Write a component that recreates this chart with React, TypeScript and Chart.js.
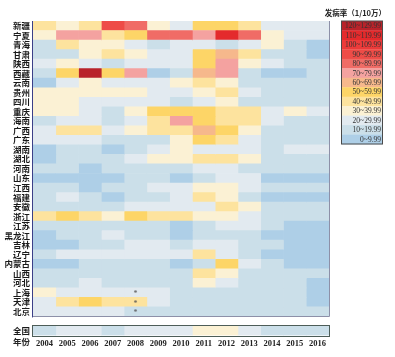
import React, { useEffect, useRef } from 'react';
import { Chart, registerables } from 'chart.js';

Chart.register(...registerables);

const years = [2004, 2005, 2006, 2007, 2008, 2009, 2010, 2011, 2012, 2013, 2014, 2015, 2016];

const provinces = [
  '新疆', '宁夏', '青海', '甘肃', '陕西', '西藏', '云南', '贵州', '四川', '重庆',
  '海南', '广西', '广东', '湖南', '湖北', '河南', '山东', '江西', '福建', '安徽',
  '浙江', '江苏', '黑龙江', '吉林', '辽宁', '内蒙古', '山西', '河北', '上海', '天津', '北京',
];

// incidence per 100 000, one row per province, columns 2004..2016 (estimated from colour bins)
const rateByProvince: number[][] = [
  [45, 35, 45, 95, 85, 35, 25, 55, 55, 45, 25, 25, 25], // 新疆
  [35, 75, 75, 45, 55, 85, 85, 75, 115, 85, 35, 25, 25], // 宁夏
  [15, 45, 35, 35, 25, 15, 25, 25, 15, 25, 35, 15, 6], // 青海
  [15, 15, 35, 45, 35, 25, 25, 55, 65, 45, 15, 15, 6], // 甘肃
  [25, 35, 25, 15, 25, 25, 25, 55, 75, 35, 25, 15, 15], // 陕西
  [15, 55, 125, 55, 75, 6, 15, 65, 75, 15, 6, 6, 15], // 西藏
  [6, 25, 35, 25, 25, 25, 35, 45, 35, 15, 15, 15, 15], // 云南
  [35, 35, 35, 35, 35, 25, 25, 35, 45, 25, 15, 15, 15], // 贵州
  [35, 35, 25, 25, 25, 25, 15, 25, 35, 15, 15, 15, 15], // 四川
  [35, 35, 25, 15, 35, 55, 55, 55, 45, 45, 25, 35, 25], // 重庆
  [15, 25, 25, 15, 25, 45, 75, 55, 45, 45, 25, 15, 15], // 海南
  [25, 45, 45, 25, 35, 45, 45, 65, 55, 35, 15, 15, 15], // 广西
  [25, 25, 25, 15, 15, 15, 35, 55, 45, 25, 15, 15, 15], // 广东
  [6, 15, 15, 6, 15, 25, 35, 25, 25, 25, 15, 25, 25], // 湖南
  [6, 15, 15, 15, 25, 35, 35, 45, 45, 35, 15, 15, 15], // 湖北
  [15, 15, 6, 15, 15, 15, 15, 25, 25, 15, 15, 15, 15], // 河南
  [6, 6, 6, 6, 15, 15, 6, 15, 25, 25, 6, 6, 6], // 山东
  [15, 15, 6, 15, 15, 25, 25, 35, 35, 25, 15, 15, 15], // 江西
  [15, 25, 15, 6, 15, 15, 25, 45, 35, 15, 6, 6, 6], // 福建
  [15, 15, 15, 15, 25, 25, 25, 25, 45, 35, 15, 15, 15], // 安徽
  [45, 55, 45, 35, 55, 45, 45, 35, 35, 25, 15, 15, 15], // 浙江
  [15, 15, 15, 15, 15, 15, 6, 15, 25, 25, 15, 6, 6], // 江苏
  [6, 15, 15, 25, 15, 15, 6, 15, 15, 15, 6, 6, 6], // 黑龙江
  [6, 6, 15, 15, 25, 25, 15, 25, 25, 15, 15, 6, 6], // 吉林
  [15, 25, 25, 25, 25, 25, 25, 45, 25, 15, 6, 6, 6], // 辽宁
  [6, 6, 15, 15, 15, 15, 6, 15, 55, 25, 15, 6, 6], // 内蒙古
  [15, 15, 15, 15, 15, 15, 15, 45, 35, 15, 15, 15, 15], // 山西
  [15, 15, 25, 15, 15, 15, 15, 35, 25, 15, 15, 15, 6], // 河北
  [35, 25, 25, 25, 25, 25, 15, 15, 15, 15, 15, 15, 6], // 上海
  [25, 45, 55, 45, 45, 25, 15, 15, 15, 15, 15, 15, 6], // 天津
  [25, 25, 25, 25, 15, 15, 15, 15, 15, 15, 15, 15, 15], // 北京
];

const nationalLabel = '全国';
const nationalRate = [15, 25, 25, 15, 25, 25, 25, 35, 35, 25, 15, 15, 15];

const legendTitle = '发病率（1/10万）';
const legendLabels = [
  '120~129.99', '110~119.99', '100~109.99', '90~99.99', '80~89.99', '70~79.99', '60~69.99',
  '50~59.99', '40~49.99', '30~39.99', '20~29.99', '10~19.99', '0~9.99',
];
const legendColors = [
  '#b9232a', '#e42a2c', '#ec3b3a', '#ee4c47', '#f06c66', '#f4a2a0', '#f6b88c',
  '#fdd567', '#fde39e', '#fbf1d4', '#e2eaf0', '#cbdfe9', '#aecfe7',
];
const flaggedCells = [
  { province: '上海', year: 2008 },
  { province: '天津', year: 2008 },
  { province: '北京', year: 2008 },
];
const axisTitle = '年份';

const binColors = [...legendColors].reverse();
function colorFor(v: number): string {
  const i = Math.max(0, Math.min(binColors.length - 1, Math.floor(v / 10)));
  return binColors[i];
}

const CJK = '"Noto Sans CJK SC", sans-serif';
const SERIF = '"Liberation Serif", "DejaVu Serif", serif';

const decorPlugin = {
  id: 'decor',
  afterDatasetsDraw(chart: any) {
    const ctx = chart.ctx as CanvasRenderingContext2D;
    const { left, right, top, bottom } = chart.chartArea;
    const xS = chart.scales.x;
    const yS = chart.scales.y;
    const band = yS.getPixelForValue(1) - yS.getPixelForValue(0);
    const mainBottom = top + provinces.length * band;
    const natTop = top + (provinces.length + 1) * band;
    ctx.save();
    // main grid frame
    ctx.lineWidth = 1;
    ctx.strokeStyle = '#3b3f88';
    ctx.beginPath();
    ctx.moveTo(Math.round(left) - 0.5, top);
    ctx.lineTo(Math.round(left) - 0.5, mainBottom + 1);
    ctx.stroke();
    ctx.strokeStyle = '#8d90a8';
    ctx.beginPath();
    ctx.moveTo(left, Math.round(mainBottom) + 0.5);
    ctx.lineTo(Math.round(right) + 0.5, Math.round(mainBottom) + 0.5);
    ctx.lineTo(Math.round(right) + 0.5, top);
    ctx.stroke();
    // national box
    ctx.strokeStyle = '#4d5d58';
    ctx.strokeRect(Math.round(left) - 0.5, Math.round(natTop) - 0.5, Math.round(right) - Math.round(left) + 1, Math.round(bottom) - Math.round(natTop) + 1);
    // flagged cells
    ctx.fillStyle = '#555';
    ctx.font = `8px ${SERIF}`;
    ctx.textAlign = 'center';
    ctx.textBaseline = 'middle';
    flaggedCells.forEach((f) => {
      const x = xS.getPixelForValue(f.year);
      const y = yS.getPixelForValue(provinces.indexOf(f.province));
      ctx.fillText('*', x, y + 1.5);
    });
    // axis title
    ctx.fillStyle = '#222';
    ctx.font = `bold 8.5px ${CJK}`;
    ctx.textAlign = 'right';
    ctx.fillText(axisTitle, 30, 342);
    // legend
    const lx = 341.5, lw = 41, ly = 21, lh = 123;
    const ch = lh / legendLabels.length;
    legendLabels.forEach((lab, i) => {
      ctx.fillStyle = legendColors[i];
      ctx.fillRect(lx, ly + i * ch, lw, ch + 0.3);
      ctx.fillStyle = '#333';
      ctx.font = `7.5px ${SERIF}`;
      ctx.textAlign = 'right';
      ctx.textBaseline = 'middle';
      ctx.fillText(lab, lx + lw - 1.5, ly + i * ch + ch / 2 + 0.5);
    });
    ctx.strokeStyle = '#4a4a4a';
    ctx.strokeRect(lx, ly, lw, lh);
    ctx.fillStyle = '#222';
    ctx.font = `bold 7.5px ${CJK}`;
    ctx.textAlign = 'right';
    ctx.textBaseline = 'middle';
    ctx.fillText(legendTitle, 386, 13);
    ctx.restore();
  },
};

export default function App() {
  const ref = useRef<HTMLCanvasElement | null>(null);
  useEffect(() => {
    if (!ref.current) return;
    const labels = [...provinces, '', nationalLabel];
    const rows: (number[] | null)[] = [...rateByProvince, null, nationalRate];
    const datasets = years.map((yr, j) => ({
      label: String(yr),
      data: rows.map((r) => (r ? [yr - 0.5, yr + 0.5] : null)),
      backgroundColor: rows.map((r) => (r ? colorFor(r[j]) : 'rgba(0,0,0,0)')),
      borderWidth: 0,
      barPercentage: 1,
      categoryPercentage: 1,
      grouped: false,
    }));
    const chart = new Chart(ref.current, {
      type: 'bar',
      data: { labels, datasets: datasets as any },
      options: {
        indexAxis: 'y',
        animation: false,
        responsive: true,
        maintainAspectRatio: false,
        layout: { padding: { top: 21, right: 66, left: 0, bottom: 0 } },
        plugins: { legend: { display: false }, tooltip: { enabled: false } },
        scales: {
          x: {
            type: 'linear',
            min: 2003.5,
            max: 2016.5,
            position: 'bottom',
            grid: { display: false, drawTicks: false },
            border: { display: false },
            afterBuildTicks: (s: any) => {
              s.ticks = years.map((v) => ({ value: v }));
            },
            afterFit: (s: any) => {
              s.height = 21.5;
            },
            ticks: {
              autoSkip: false,
              maxRotation: 0,
              padding: 3,
              color: '#222',
              font: { family: SERIF, size: 8.5, weight: 'bold' },
              callback: (v: any) => String(v),
            },
          },
          y: {
            type: 'category',
            grid: { display: false, drawTicks: false },
            border: { display: false },
            afterFit: (s: any) => {
              s.width = 33;
            },
            ticks: {
              autoSkip: false,
              padding: 3,
              color: '#1a1a1a',
              font: { family: CJK, size: 8.5, weight: 'bold' },
            },
          },
        },
      },
      plugins: [decorPlugin],
    });
    return () => chart.destroy();
  }, []);
  return (
    <div style={{ position: 'fixed', left: 0, top: 0, width: 395, height: 357, background: '#fff' }}>
      <canvas ref={ref} />
    </div>
  );
}
